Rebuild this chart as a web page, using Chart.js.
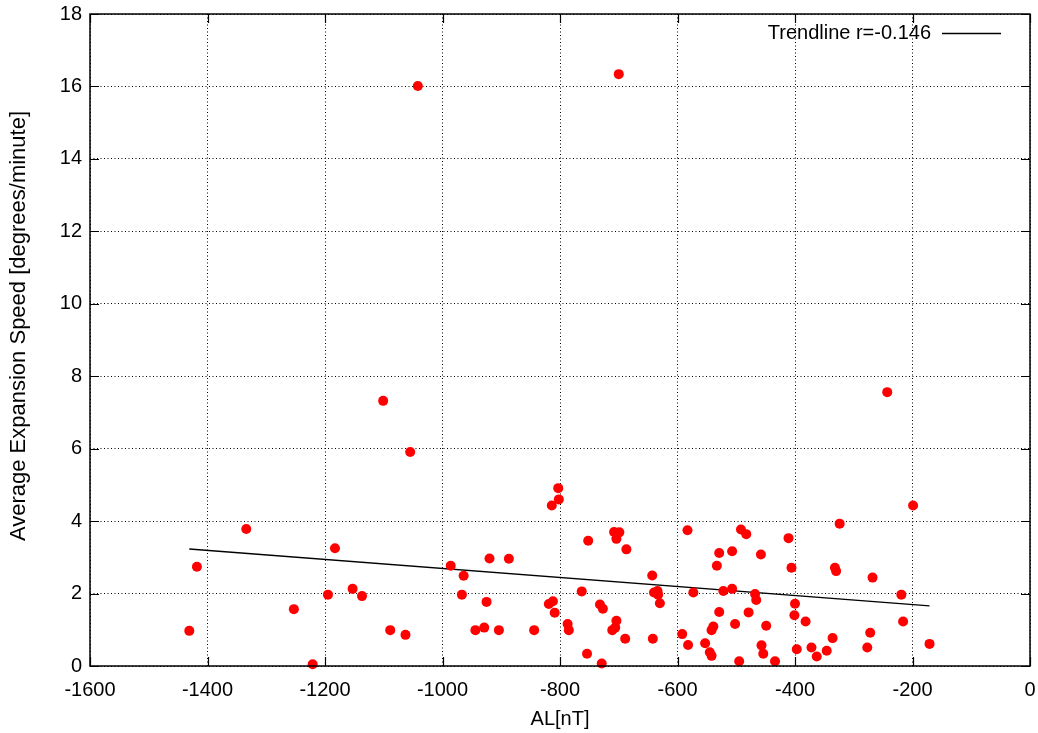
<!DOCTYPE html>
<html>
<head>
<meta charset="utf-8">
<script src="https://cdn.jsdelivr.net/npm/chart.js@4"></script>
<style>
  html, body { margin: 0; padding: 0; background: #fff; }
  #wrap { width: 1038px; height: 733px; position: relative; }
</style>
</head>
<body>
<div id="wrap"><canvas id="scatterChart"></canvas></div>
<script>
// AL 值 (nT)
const alValues = [
    -1431, -1418, -1334, -1253, -1221, -1195, -1183, -1153, -1137, -1101,
    -1089, -1063, -1055, -1042, -986, -964, -967, -944, -929, -925,
    -920, -904, -887, -844, -819, -814, -812, -809, -803, -802,
    -787, -785, -763, -754, -752, -732, -727, -729, -711, -708,
    -704, -706, -704, -699, -700, -689, -687, -643, -642, -640,
    -634, -633, -630, -592, -583, -582, -573, -553, -545, -542,
    -539, -542, -533, -529, -529, -522, -507, -507, -502, -495,
    -492, -483, -479, -468, -466, -458, -457, -454, -449, -434,
    -411, -406, -400, -401, -397, -382, -372, -363, -346, -336,
    -332, -330, -324, -277, -272, -268, -243, -219, -216, -199,
    -171
];
// 平均扩展速度 (degrees/minute)
const speedValues = [
    0.97, 2.74, 3.78, 1.57, 0.05, 1.97, 3.25, 2.13, 1.93, 7.32,
    0.99, 0.86, 5.91, 16.01, 2.77, 2.49, 1.97, 0.99, 1.06, 1.77,
    2.97, 0.99, 2.96, 0.99, 1.71, 4.43, 1.79, 1.47, 4.91, 4.60,
    1.16, 0.99, 2.06, 0.34, 3.46, 1.70, 1.58, 0.07, 0.99, 3.70,
    1.25, 1.06, 3.51, 3.69, 16.34, 0.75, 3.22, 2.50, 0.75, 2.03,
    2.07, 1.97, 1.73, 0.88, 3.75, 0.58, 2.03, 0.63, 0.38, 0.28,
    1.09, 0.99, 2.77, 3.12, 1.49, 2.07, 3.17, 2.13, 1.16, 0.13,
    3.77, 3.64, 1.48, 1.99, 1.82, 3.08, 0.57, 0.34, 1.11, 0.13,
    3.53, 2.71, 1.72, 1.40, 0.46, 1.23, 0.51, 0.26, 0.42, 0.77,
    2.71, 2.62, 3.93, 0.51, 0.92, 2.44, 7.56, 1.97, 1.23, 4.43,
    0.61
];
// 趋势线端点
const trendX = [-1431, -171];
const trendY = [3.23, 1.66];
const trendLabel = 'Trendline r=-0.146';
const yTitle = 'Average Expansion Speed [degrees/minute]';

// 坐标轴范围
const xMin = -1600, xMax = 0, xStep = 200;
const yMin = 0, yMax = 18, yStep = 2;

const FONT = "'Liberation Sans', Arial, Helvetica, sans-serif";

// 边框、内向刻度、纵轴标题和图例
const framePlugin = {
    id: 'frame',
    afterDraw(chart) {
        const ctx = chart.ctx;
        const a = chart.chartArea;
        const xs = chart.scales.x, ys = chart.scales.y;
        const tl = 9;
        ctx.save();
        ctx.strokeStyle = '#000';
        ctx.lineWidth = 1.5;
        ctx.setLineDash([]);
        ctx.strokeRect(a.left, a.top, a.right - a.left, a.bottom - a.top);
        ctx.lineWidth = 1.2;
        ctx.beginPath();
        xs.ticks.forEach(t => {
            const px = Math.round(xs.getPixelForValue(t.value)) + 0.5;
            ctx.moveTo(px, a.bottom); ctx.lineTo(px, a.bottom - tl);
            ctx.moveTo(px, a.top); ctx.lineTo(px, a.top + tl);
        });
        ys.ticks.forEach(t => {
            const py = Math.round(ys.getPixelForValue(t.value)) + 0.5;
            ctx.moveTo(a.left, py); ctx.lineTo(a.left + tl, py);
            ctx.moveTo(a.right, py); ctx.lineTo(a.right - tl, py);
        });
        ctx.stroke();

        // 纵轴标题
        ctx.fillStyle = '#000';
        ctx.font = '22px ' + FONT;
        ctx.textAlign = 'center';
        ctx.textBaseline = 'middle';
        ctx.save();
        ctx.translate(19, 326);
        ctx.rotate(-Math.PI / 2);
        ctx.fillText(yTitle, 0, 0);
        ctx.restore();

        // 图例
        ctx.font = '20px ' + FONT;
        ctx.textAlign = 'right';
        ctx.fillText(chart.data.datasets[1].label, 931, 33);
        ctx.lineWidth = 1.3;
        ctx.beginPath();
        ctx.moveTo(942, 33.5);
        ctx.lineTo(1001, 33.5);
        ctx.stroke();
        ctx.restore();
    }
};

function initChart() {
    const ctx = document.getElementById('scatterChart').getContext('2d');
    new Chart(ctx, {
        type: 'scatter',
        data: {
            datasets: [{
                label: 'data',
                data: alValues.map((x, i) => ({ x: x, y: speedValues[i] })),
                backgroundColor: '#ff0000',
                borderWidth: 0,
                pointRadius: 5,
                pointHoverRadius: 5,
                clip: false,
                order: 0
            }, {
                label: trendLabel,
                type: 'line',
                data: trendX.map((x, i) => ({ x: x, y: trendY[i] })),
                borderColor: '#000',
                borderWidth: 1.3,
                pointRadius: 0,
                fill: false,
                tension: 0,
                order: 1
            }]
        },
        options: {
            responsive: true,
            maintainAspectRatio: false,
            animation: false,
            events: [],
            layout: { padding: { left: 0, right: 8, top: 14, bottom: 0 } },
            plugins: {
                legend: { display: false },
                tooltip: { enabled: false }
            },
            scales: {
                x: {
                    type: 'linear',
                    min: xMin,
                    max: xMax,
                    afterFit: s => {
                        s.height = 67;
                        s.paddingLeft = 0;
                        s.paddingRight = 0;
                    },
                    ticks: {
                        stepSize: xStep,
                        color: '#000',
                        font: { family: FONT, size: 20 },
                        padding: 12,
                        maxRotation: 0,
                        callback: v => String(v)
                    },
                    grid: { color: '#000', lineWidth: 1, drawTicks: false },
                    border: { display: false, dash: [1, 2.5] },
                    title: {
                        display: true,
                        text: 'AL[nT]',
                        color: '#000',
                        font: { family: FONT, size: 20 },
                        padding: { top: 0, bottom: 2 }
                    }
                },
                y: {
                    min: yMin,
                    max: yMax,
                    afterFit: s => {
                        s.width = 90;
                        s.paddingTop = 0;
                        s.paddingBottom = 0;
                    },
                    ticks: {
                        stepSize: yStep,
                        color: '#000',
                        font: { family: FONT, size: 20 },
                        padding: 8,
                        callback: v => String(v)
                    },
                    grid: { color: '#000', lineWidth: 1, drawTicks: false },
                    border: { display: false, dash: [1, 2.5] },
                    title: { display: false }
                }
            }
        },
        plugins: [framePlugin]
    });
}

initChart();
</script>
</body>
</html>
